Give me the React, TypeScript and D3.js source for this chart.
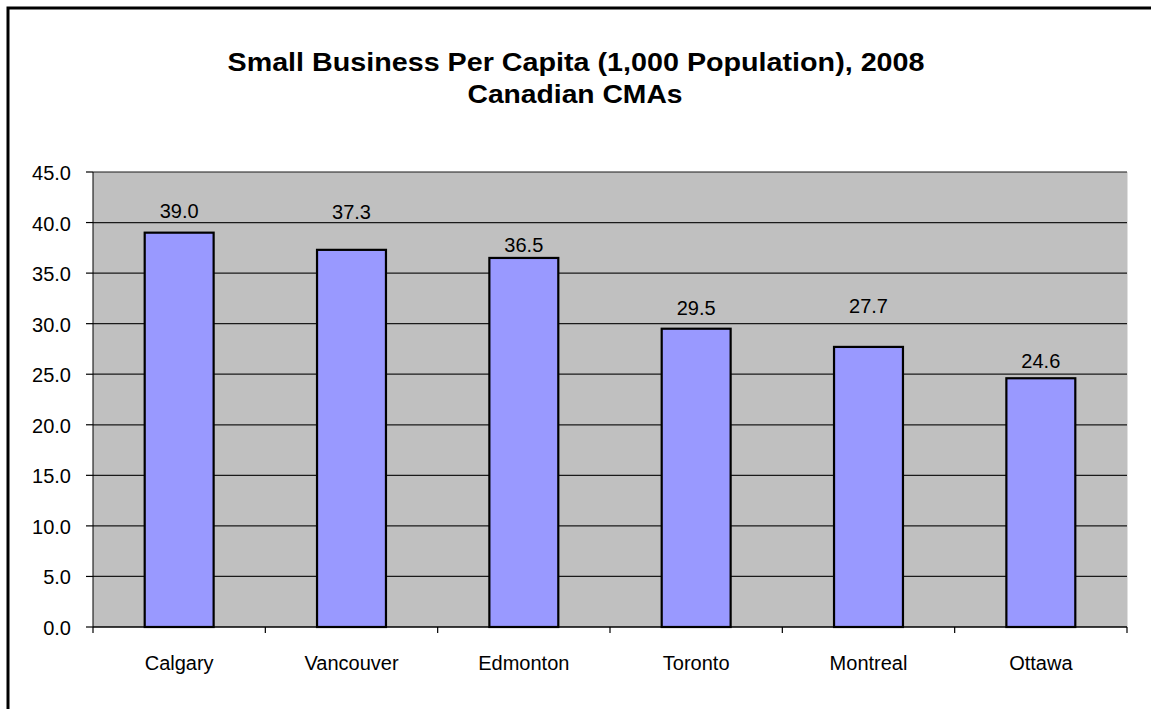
import React from "react";
import * as d3 from "d3";

const categories = ["Calgary", "Vancouver", "Edmonton", "Toronto", "Montreal", "Ottawa"];
const values = [39.0, 37.3, 36.5, 29.5, 27.7, 24.6];
const yTickValues = [0, 5, 10, 15, 20, 25, 30, 35, 40, 45];
const titleLines = ["Small Business Per Capita (1,000 Population), 2008", "Canadian CMAs"];

// layout: label baseline lift above bar top (px), as placed in the original
const labelLift = [15, 31, 6, 14, 34, 10];

const W = 1151;
const H = 709;
const plot = { left: 93, right: 1127, top: 172, bottom: 627 };
const FONT = "'Liberation Sans', Arial, sans-serif";

export default function App() {
  const x = d3
    .scaleBand<string>()
    .domain(categories)
    .range([plot.left, plot.right])
    .paddingInner(0.6)
    .paddingOuter(0.3);
  const y = d3.scaleLinear().domain([0, 45]).range([plot.bottom, plot.top]);
  const step = x.step();
  const boundaries = d3.range(categories.length + 1).map((i) => plot.left + i * step);

  return (
    <svg
      width={W}
      height={H}
      style={{ position: "absolute", left: 0, top: 0, background: "#fff" }}
    >
      <rect x={8} y={8} width={W + 100} height={H + 100} fill="#fff" stroke="#000" strokeWidth={3} />
      {/* title */}
      <text x={576} y={71} textAnchor="middle" fontFamily={FONT} fontWeight="bold" fontSize={25}
        textLength={697} lengthAdjust="spacingAndGlyphs">
        {titleLines[0]}
      </text>
      <text x={575} y={103} textAnchor="middle" fontFamily={FONT} fontWeight="bold" fontSize={25}
        textLength={215} lengthAdjust="spacingAndGlyphs">
        {titleLines[1]}
      </text>

      {/* plot background */}
      <rect x={plot.left} y={plot.top} width={plot.right - plot.left} height={plot.bottom - plot.top} fill="#C0C0C0" />
      <line x1={plot.right + 0.5} x2={plot.right + 0.5} y1={plot.top} y2={plot.bottom} stroke="#e0e0e0" strokeWidth={1} />

      {/* gridlines */}
      {yTickValues.filter((t) => t > 0).map((t) => (
        <line key={"g" + t} x1={plot.left} x2={plot.right} y1={y(t)} y2={y(t)} stroke="#1a1a1a" strokeWidth={1.2} />
      ))}

      {/* bars */}
      {categories.map((c, i) => (
        <rect
          key={c}
          x={x(c)!}
          y={y(values[i])}
          width={x.bandwidth()}
          height={y(0) - y(values[i])}
          fill="#9999FF"
          stroke="#000"
          strokeWidth={2.2}
        />
      ))}

      {/* value labels */}
      {categories.map((c, i) => (
        <text
          key={"v" + c}
          x={x(c)! + x.bandwidth() / 2}
          y={y(values[i]) - labelLift[i]}
          textAnchor="middle"
          fontFamily={FONT}
          fontSize={20}
          fill="#000"
        >
          {values[i].toFixed(1)}
        </text>
      ))}

      {/* y axis */}
      <line x1={plot.left} x2={plot.left} y1={plot.top} y2={plot.bottom} stroke="#000" strokeWidth={1} />
      {yTickValues.map((t) => (
        <g key={"t" + t}>
          <line x1={plot.left - 7} x2={plot.left} y1={y(t)} y2={y(t)} stroke="#000" strokeWidth={1.2} />
          <text x={71} y={y(t) + 8} textAnchor="end" fontFamily={FONT} fontSize={20} fill="#000">
            {t.toFixed(1)}
          </text>
        </g>
      ))}

      {/* x axis */}
      <line x1={plot.left} x2={plot.right} y1={plot.bottom} y2={plot.bottom} stroke="#000" strokeWidth={1.5} />
      {boundaries.map((b, i) => (
        <line key={"xt" + i} x1={b} x2={b} y1={plot.bottom} y2={plot.bottom + 6} stroke="#000" strokeWidth={1.2} />
      ))}
      {categories.map((c) => (
        <text key={"c" + c} x={x(c)! + x.bandwidth() / 2} y={670} textAnchor="middle" fontFamily={FONT} fontSize={20} fill="#000">
          {c}
        </text>
      ))}
    </svg>
  );
}
